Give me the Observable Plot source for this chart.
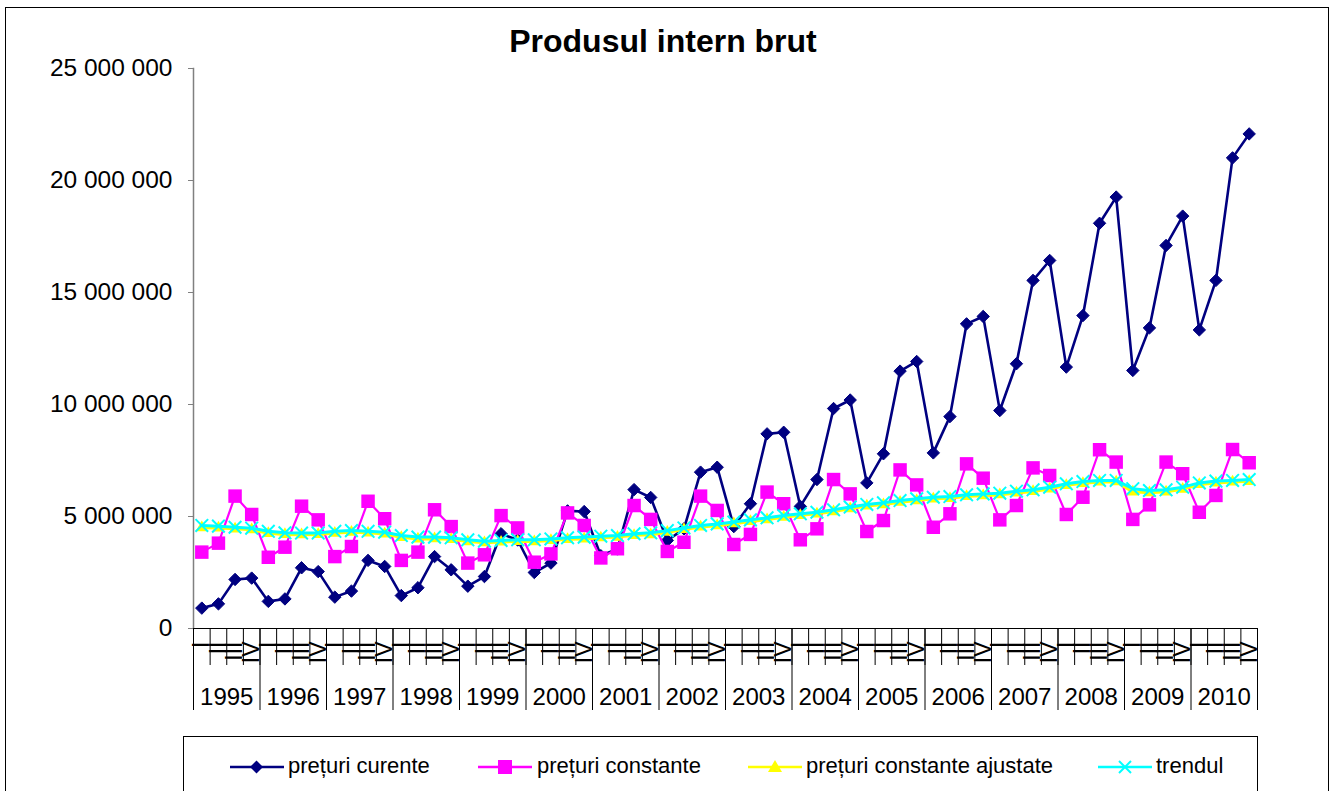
<!DOCTYPE html>
<html><head><meta charset="utf-8">
<script src="https://cdn.jsdelivr.net/npm/d3@7"></script>
<script src="https://cdn.jsdelivr.net/npm/@observablehq/plot@0.6"></script>
<style>
body{margin:0;background:#fff;font-family:"Liberation Sans",Arial,sans-serif;color:#000;width:1332px;height:791px;overflow:hidden;position:relative;}
#border{position:absolute;left:5px;top:7px;width:1322px;height:800px;border:1px solid #000;pointer-events:none;}
#title{height:60px;position:relative;}
#title div{position:absolute;left:0;width:1326px;top:25px;text-align:center;font-weight:bold;font-size:32px;line-height:32px;}
#chart{height:670px;}
#legend{position:absolute;left:183px;top:736px;width:1073px;height:70px;border:1px solid #000;background:#fff;}
.item{position:absolute;top:17px;height:24px;font-size:22px;line-height:24px;white-space:nowrap;}
.item svg{position:absolute;left:0;top:2px;}
.item span{position:absolute;top:0;}
</style>
</head><body>
<div id="title"><div>Produsul intern brut</div></div>
<div id="chart"></div>
<div id="legend"></div>
<div id="border"></div>
<script>
const years = [1995,1996,1997,1998,1999,2000,2001,2002,2003,2004,2005,2006,2007,2008,2009,2010];
const quarters = ["I","II","III","IV"];
const yTicks = [0,5000000,10000000,15000000,20000000,25000000];
const seriesNames = ["prețuri curente","prețuri constante","prețuri constante ajustate","trendul"];
const seriesColors = ["#000080","#FF00FF","#FFFF00","#00FFFF"];

const pretCurente = [
 910000,1100000,2190000,2250000, 1210000,1320000,2710000,2540000, 1400000,1670000,3040000,2770000,
 1470000,1820000,3210000,2620000, 1890000,2320000,4230000,3950000, 2500000,2920000,5250000,5220000,
 3250000,3550000,6200000,5850000, 3930000,4450000,6980000,7200000, 4550000,5570000,8690000,8760000,
 5450000,6650000,9820000,10200000, 6500000,7800000,11490000,11920000, 7840000,9460000,13600000,13930000,
 9730000,11820000,15540000,16430000, 11670000,13970000,18090000,19260000, 11520000,13420000,17100000,18410000,
 13330000,15540000,21010000,22080000];
const pretConstante = [
 3410000,3810000,5910000,5090000, 3180000,3630000,5460000,4850000, 3210000,3660000,5680000,4900000,
 3040000,3410000,5300000,4550000, 2920000,3290000,5040000,4490000, 2960000,3330000,5160000,4600000,
 3150000,3560000,5490000,4870000, 3440000,3850000,5910000,5270000, 3750000,4200000,6090000,5570000,
 3960000,4450000,6650000,6010000, 4330000,4820000,7080000,6410000, 4520000,5120000,7350000,6710000,
 4850000,5490000,7170000,6830000, 5090000,5860000,7980000,7430000, 4870000,5520000,7430000,6910000,
 5190000,5940000,7990000,7400000];
const pretAjustate = [
 4500000,4490000,4450000,4410000, 4250000,4200000,4190000,4200000, 4260000,4300000,4270000,4220000,
 4070000,4000000,4010000,3980000, 3880000,3830000,3860000,3890000, 3880000,3930000,3980000,4000000,
 4050000,4080000,4160000,4190000, 4300000,4420000,4530000,4590000, 4680000,4780000,4860000,4970000,
 5050000,5120000,5220000,5350000, 5470000,5530000,5640000,5710000, 5790000,5810000,5900000,5930000,
 5970000,6050000,6120000,6230000, 6390000,6480000,6540000,6550000, 6100000,6060000,6100000,6220000,
 6430000,6500000,6540000,6570000];
const trendul = [
 4600000,4570000,4520000,4480000, 4340000,4270000,4260000,4260000, 4340000,4370000,4340000,4300000,
 4150000,4080000,4080000,4050000, 3960000,3900000,3930000,3960000, 3960000,4000000,4050000,4080000,
 4120000,4150000,4230000,4270000, 4370000,4490000,4600000,4670000, 4750000,4850000,4940000,5040000,
 5120000,5190000,5300000,5420000, 5540000,5610000,5710000,5790000, 5860000,5890000,5970000,6010000,
 6040000,6130000,6190000,6310000, 6460000,6560000,6610000,6610000, 6240000,6160000,6190000,6310000,
 6500000,6580000,6610000,6650000];

const rows = pretCurente.map((v, i) => ({
  i, year: years[Math.floor(i / 4)], q: quarters[i % 4],
  curente: v, constante: pretConstante[i], ajustate: pretAjustate[i], trend: trendul[i]
}));
const n = rows.length;
const centers = rows.map(d => d.i);
const boundaries = d3.range(n + 1).map(k => k - 0.5);
const yearBounds = d3.range(years.length + 1).map(k => k * 4 - 0.5);
const yearCenters = years.map((y, k) => k * 4 + 1.5);

const fmt = d3.formatLocale({decimal: ",", thousands: " ", grouping: [3], currency: ["", ""]}).format(",");

const chart = Plot.plot({
  width: 1332, height: 670,
  marginTop: 8, marginBottom: 102, marginLeft: 193, marginRight: 75,
  style: {fontFamily: "'Liberation Sans', Arial, sans-serif", fontSize: "23px", color: "#000", background: "#fff", overflow: "visible"},
  x: {domain: [-0.5, n - 0.5]},
  y: {domain: [0, 25000000]},
  marks: [
    Plot.axisY({ticks: yTicks, tickFormat: fmt, tickSize: 5, tickPadding: 16, stroke: "#808080", fill: "#000", label: null, fontSize: 24.5}),
    Plot.frame({anchor: "left", stroke: "#808080", strokeWidth: 1.5}),
    Plot.axisX({ticks: boundaries, tickSize: 37, tickFormat: () => "", label: null, stroke: "#000"}),
    Plot.axisX({ticks: yearBounds, tickSize: 82, tickFormat: () => "", label: null, stroke: "#000"}),
    Plot.axisX({ticks: centers, tickSize: 0, tickPadding: 13, tickRotate: -90, textAnchor: "end", lineAnchor: "middle",
      tickFormat: i => quarters[i % 4], label: null, fontSize: 23}),
    Plot.axisX({ticks: yearCenters, tickSize: 0, tickPadding: 59, tickFormat: d => String(years[Math.round((d - 1.5) / 4)]), label: null, fontSize: 24}),
    Plot.ruleY([0], {stroke: "#000", strokeWidth: 1.2}),
    Plot.line(rows, {x: "i", y: "curente", stroke: seriesColors[0], strokeWidth: 2.6}),
    Plot.dot(rows, {x: "i", y: "curente", symbol: "diamond2", r: 5.6, fill: seriesColors[0], stroke: seriesColors[0], strokeWidth: 1}),
    Plot.line(rows, {x: "i", y: "constante", stroke: seriesColors[1], strokeWidth: 2.2}),
    Plot.dot(rows, {x: "i", y: "constante", symbol: "square", r: 7.6, fill: seriesColors[1], stroke: "none"}),
    Plot.line(rows, {x: "i", y: "ajustate", stroke: seriesColors[2], strokeWidth: 3}),
    Plot.dot(rows, {x: "i", y: "ajustate", symbol: "triangle", r: 4.6, fill: seriesColors[2], stroke: "none"}),
    Plot.line(rows, {x: "i", y: "trend", stroke: seriesColors[3], strokeWidth: 3}),
    Plot.dot(rows, {x: "i", y: "trend", symbol: "times", r: 5.8, stroke: seriesColors[3], strokeWidth: 2})
  ]
});
document.getElementById("chart").append(chart);

// legend
const legend = document.getElementById("legend");
const itemLeft = [46, 294, 564, 914];
const textLeft = [58, 59, 58, 58];
const markers = [
  c => `<path d="M26.5,4.5 L33,11 L26.5,17.5 L20,11 Z" fill="${c}"/>`,
  c => `<rect x="20" y="4" width="14" height="14" fill="${c}"/>`,
  c => `<path d="M27,4 L34,16 L20,16 Z" fill="${c}"/>`,
  c => `<path d="M21,5 L33,17 M33,5 L21,17" stroke="${c}" stroke-width="2"/>`
];
seriesNames.forEach((name, k) => {
  const it = document.createElement("div");
  it.className = "item";
  it.style.left = itemLeft[k] + "px";
  it.innerHTML = `<svg width="54" height="22"><line x1="0" y1="11" x2="54" y2="11" stroke="${seriesColors[k]}" stroke-width="2.5"/>${markers[k](seriesColors[k])}</svg><span style="left:${textLeft[k]}px">${name}</span>`;
  legend.append(it);
});
</script>
</body></html>
